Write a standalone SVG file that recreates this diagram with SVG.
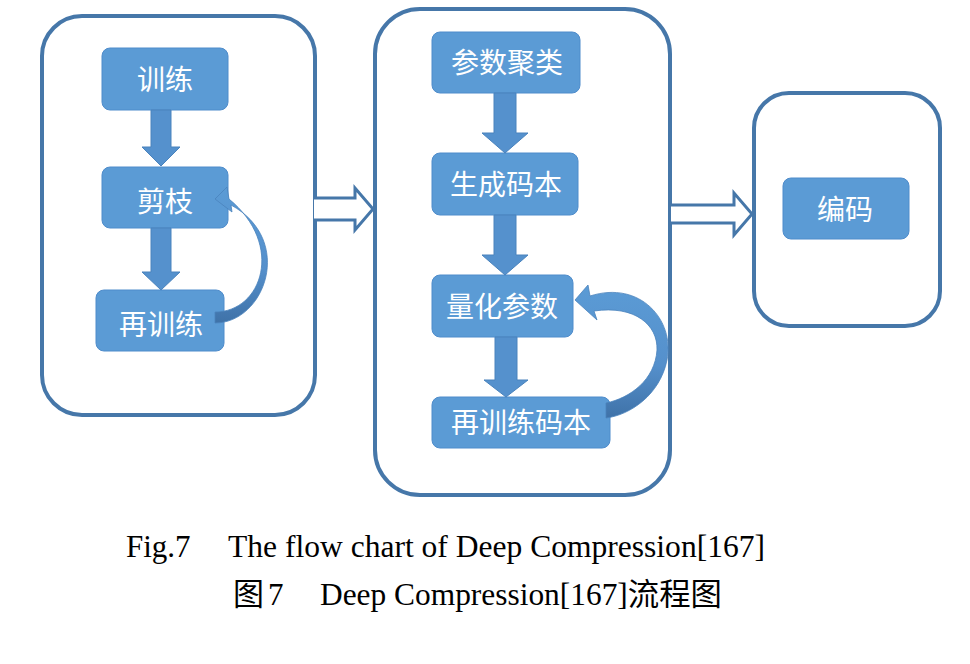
<svg xmlns="http://www.w3.org/2000/svg" width="970" height="664" viewBox="0 0 970 664">
<defs>
<style>
.container{fill:#ffffff;stroke:#4677a9;stroke-width:4}
.node{fill:#5b9bd5;stroke:#4f8ccb;stroke-width:1}
.label{font-family:"Noto Sans CJK SC","Noto Sans",sans-serif;font-size:28px;fill:#ffffff;text-anchor:middle}
.down{fill:#5591cd;stroke:#4a83bd;stroke-width:1}
.hollow{fill:#ffffff;stroke:#4677a9;stroke-width:3;stroke-linejoin:miter}
.curve{fill:url(#cg);stroke:#4a83bd;stroke-width:0.8}
.cap{font-family:"Liberation Serif","Noto Sans CJK SC",serif;font-size:31px;fill:#000000}
</style>
<linearGradient id="cg" x1="0" y1="0" x2="0" y2="1">
<stop offset="0" stop-color="#5b9bd5"/>
<stop offset="0.6" stop-color="#5590cc"/>
<stop offset="1" stop-color="#3f72a8"/>
</linearGradient>
</defs>
<g id="containers">
<rect id="stage-pruning" class="container" x="42" y="16" width="273" height="399" rx="40"/>
<rect id="stage-quantization" class="container" x="375" y="9" width="295" height="486" rx="45"/>
<rect id="stage-coding" class="container" x="754" y="93" width="186" height="233" rx="35"/>
</g>
<g id="n-train"><rect class="node" x="102" y="48" width="126" height="62" rx="8"/><text class="label" x="165" y="90">训练</text></g>
<g id="n-prune"><rect class="node" x="102" y="167" width="126" height="61" rx="8"/><text class="label" x="165" y="212">剪枝</text></g>
<g id="n-retrain"><rect class="node" x="96" y="290" width="128" height="61" rx="8"/><text class="label" x="161" y="335">再训练</text></g>
<g id="n-cluster"><rect class="node" x="432" y="32" width="148" height="61" rx="8"/><text class="label" x="507" y="73">参数聚类</text></g>
<g id="n-codebook"><rect class="node" x="432" y="153" width="146" height="62" rx="8"/><text class="label" x="506" y="195">生成码本</text></g>
<g id="n-quant"><rect class="node" x="432" y="275" width="141" height="62" rx="8"/><text class="label" x="502" y="317">量化参数</text></g>
<g id="n-retrain-cb"><rect class="node" x="432" y="397" width="178" height="51" rx="8"/><text class="label" x="521" y="433">再训练码本</text></g>
<g id="n-encode"><rect class="node" x="783" y="178" width="126" height="61" rx="8"/><text class="label" x="845" y="220">编码</text></g>
<g id="connectors">
<path class="down" d="M151 110 L171 110 L171 147 L180 147 L161 166 L142 147 L151 147 Z"/>
<path class="down" d="M151 228 L171 228 L171 272 L180 272 L161 290 L142 272 L151 272 Z"/>
<path class="down" d="M494 93 L516 93 L516 133 L528 133 L505 153 L482 133 L494 133 Z"/>
<path class="down" d="M494 215 L516 215 L516 255 L528 255 L505 275 L482 255 L494 255 Z"/>
<path class="down" d="M495 337 L517 337 L517 380 L528 380 L506 397 L484 380 L495 380 Z"/>
<path class="hollow" d="M314 198 L355 198 L355 188 L373 209 L355 230 L355 220 L314 220"/>
<path class="hollow" d="M671 205 L734 205 L734 193 L752 214 L734 235 L734 223 L671 223"/>
<path class="curve" d="M215 312 C262 312 285 245 229 199 L227 187 L215 199 L232 212 L231 205 C295 240 265 323 215 323 Z"/>
<path class="curve" d="M606 403 C630 398 655 380 657 350 C658 325 635 305 594 311 L597 320 L575 300 L588 285 L590 296 C640 280 675 320 667 360 C660 395 630 415 606 418 Z"/>
</g>
<g id="caption">
<text class="cap" x="126" y="557">Fig.7</text>
<text class="cap" x="228" y="557" textLength="537" lengthAdjust="spacingAndGlyphs">The flow chart of Deep Compression[167]</text>
<text class="cap" x="233" y="605">图</text>
<text class="cap" x="268" y="605">7</text>
<text class="cap" x="320" y="605" textLength="402" lengthAdjust="spacingAndGlyphs">Deep Compression[167]流程图</text>
</g>
</svg>
